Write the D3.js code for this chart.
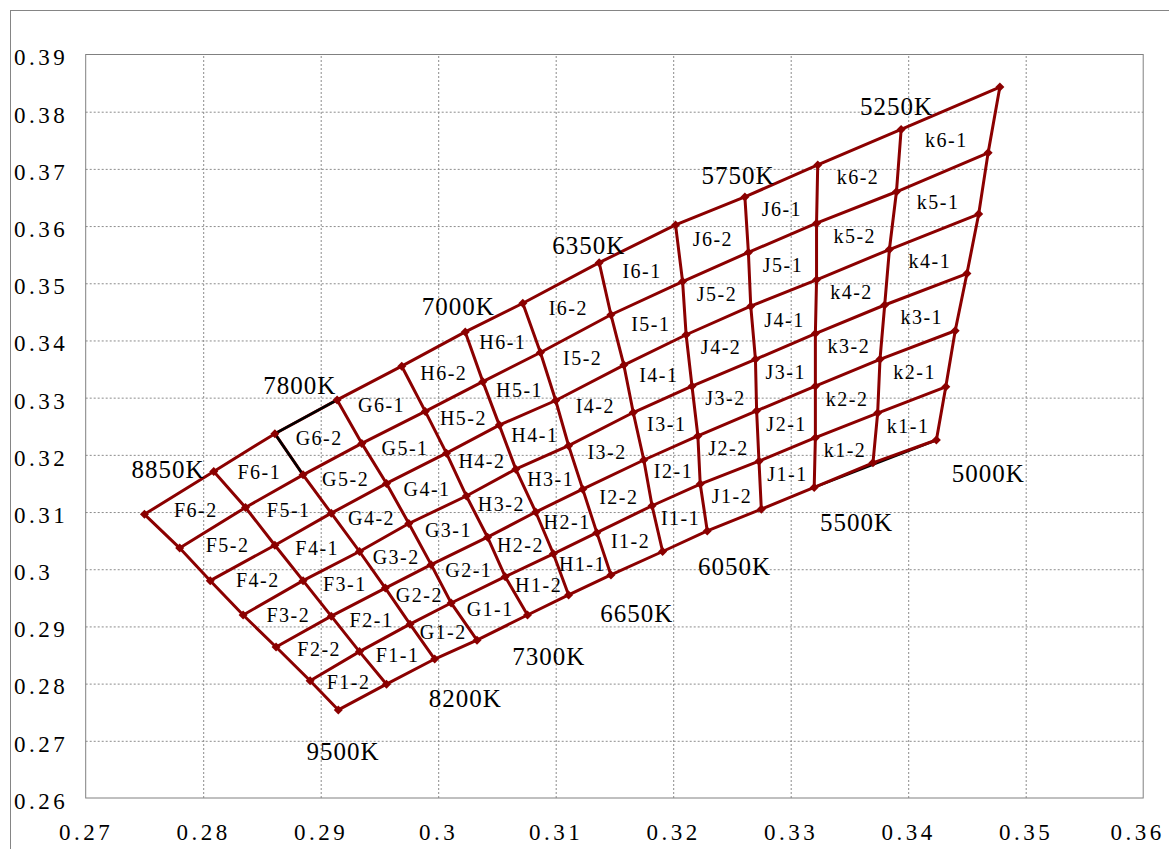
<!DOCTYPE html>
<html>
<head>
<meta charset="utf-8">
<script src="https://cdn.jsdelivr.net/npm/d3@7"></script>
<style>
  body { margin: 0; background: #fff; }
  .tick text { font-family: "Liberation Serif", serif; font-size: 23px; letter-spacing: 3.5px; fill: #000; }
  .cell-label { font-family: "Liberation Serif", serif; font-size: 20px; letter-spacing: 1.5px; fill: #000; }
  .cct-label { font-family: "Liberation Serif", serif; font-size: 25px; letter-spacing: 1px; fill: #000; }
</style>
</head>
<body>
<svg id="chart" width="1169" height="849"></svg>
<script>
// each isotherm (CCT) line, points listed bottom -> top
const lineX = [
  [0.2915, 0.2891, 0.2862, 0.2834, 0.2806, 0.2780, 0.2750],
  [0.2956, 0.2933, 0.2909, 0.2885, 0.2861, 0.2836, 0.2809],
  [0.2997, 0.2976, 0.2955, 0.2933, 0.2909, 0.2885, 0.2861],
  [0.3033, 0.3011, 0.2994, 0.2975, 0.2956, 0.2935, 0.2914],
  [0.3076, 0.3057, 0.3042, 0.3024, 0.3007, 0.2989, 0.2969],
  [0.3111, 0.3098, 0.3083, 0.3066, 0.3052, 0.3038, 0.3023],
  [0.3147, 0.3135, 0.3123, 0.3111, 0.3100, 0.3087, 0.3072],
  [0.3191, 0.3182, 0.3175, 0.3166, 0.3158, 0.3147, 0.3137],
  [0.3229, 0.3223, 0.3221, 0.3216, 0.3211, 0.3208, 0.3202],
  [0.3275, 0.3273, 0.3271, 0.3270, 0.3266, 0.3264, 0.3261],
  [0.3320, 0.3321, 0.3321, 0.3321, 0.3322, 0.3322, 0.3323],
  [0.3370, 0.3374, 0.3376, 0.3380, 0.3384, 0.3390, 0.3394],
  [0.3424, 0.3432, 0.3440, 0.3450, 0.3460, 0.3468, 0.3478]
];
const lineY = [
  [0.2754, 0.2805, 0.2864, 0.2920, 0.2980, 0.3037, 0.3096],
  [0.2799, 0.2856, 0.2918, 0.2980, 0.3042, 0.3108, 0.3171],
  [0.2843, 0.2904, 0.2967, 0.3031, 0.3098, 0.3165, 0.3237],
  [0.2876, 0.2941, 0.3008, 0.3080, 0.3150, 0.3220, 0.3296],
  [0.2920, 0.2987, 0.3056, 0.3128, 0.3203, 0.3276, 0.3355],
  [0.2955, 0.3027, 0.3100, 0.3175, 0.3252, 0.3328, 0.3415],
  [0.2990, 0.3064, 0.3140, 0.3216, 0.3295, 0.3379, 0.3465],
  [0.3031, 0.3111, 0.3191, 0.3274, 0.3357, 0.3445, 0.3536],
  [0.3067, 0.3149, 0.3233, 0.3320, 0.3410, 0.3503, 0.3602],
  [0.3105, 0.3189, 0.3277, 0.3367, 0.3460, 0.3554, 0.3651],
  [0.3143, 0.3230, 0.3320, 0.3412, 0.3506, 0.3605, 0.3707],
  [0.3186, 0.3273, 0.3367, 0.3462, 0.3559, 0.3660, 0.3769],
  [0.3226, 0.3319, 0.3417, 0.3517, 0.3621, 0.3728, 0.3843]
];

const groups = ["F", "G", "H", "I", "J", "k"];
const rowNames = ["1", "2", "3", "4", "5", "6"];
const subNames = ["2", "1"];

const cctNames = ["9500K", "8200K", "7300K", "6650K", "6050K", "5500K", "5000K",
                  "8850K", "7800K", "7000K", "6350K", "5750K", "5250K"];
const cctLabelX = [0.2888, 0.2992, 0.3063, 0.3138, 0.3221, 0.3325, 0.3437,
                   0.2739, 0.2851, 0.2986, 0.3097, 0.3224, 0.3359];
const cctLabelY = [0.2681, 0.2774, 0.2848, 0.2923, 0.3005, 0.3083, 0.3168,
                   0.3174, 0.3322, 0.3459, 0.3567, 0.3689, 0.3809];

const xTicks = [0.27, 0.28, 0.29, 0.30, 0.31, 0.32, 0.33, 0.34, 0.35, 0.36];
const yTicks = [0.26, 0.27, 0.28, 0.29, 0.30, 0.31, 0.32, 0.33, 0.34, 0.35, 0.36, 0.37, 0.38, 0.39];

const plot = {left: 85.7, right: 1143.2, top: 54.5, bottom: 798};
const red = "#8b0000";

const svg = d3.select("#chart");

// outer chart frame
svg.append("rect")
    .attr("x", 10.5).attr("y", 10.5)
    .attr("width", 1200).attr("height", 900)
    .attr("fill", "none").attr("stroke", "#858585");

const x = d3.scaleLinear().domain([0.27, 0.36]).range([plot.left, plot.right]);
const y = d3.scaleLinear().domain([0.26, 0.39]).range([plot.bottom, plot.top]);
const fmt = d => String(+d.toFixed(2));

// grid
svg.append("g")
    .attr("transform", `translate(0,${plot.bottom})`)
    .call(d3.axisBottom(x).tickValues(xTicks.slice(1, -1)).tickSize(-(plot.bottom - plot.top)).tickFormat(""))
    .call(g => g.select(".domain").remove())
    .call(g => g.selectAll("line").attr("stroke", "#8c8c8c").attr("stroke-dasharray", "2,2"));
svg.append("g")
    .attr("transform", `translate(${plot.left},0)`)
    .call(d3.axisLeft(y).tickValues(yTicks.slice(1, -1)).tickSize(-(plot.right - plot.left)).tickFormat(""))
    .call(g => g.select(".domain").remove())
    .call(g => g.selectAll("line").attr("stroke", "#8c8c8c").attr("stroke-dasharray", "2,2"));

svg.append("rect")
    .attr("x", plot.left).attr("y", plot.top)
    .attr("width", plot.right - plot.left).attr("height", plot.bottom - plot.top)
    .attr("fill", "none").attr("stroke", "#808080");

// tick labels
svg.append("g")
    .attr("transform", `translate(0,${plot.bottom})`)
    .call(d3.axisBottom(x).tickValues(xTicks).tickSize(0).tickPadding(26).tickFormat(fmt))
    .call(g => g.select(".domain").remove())
    .call(g => g.selectAll("text").filter(d => d === 0.36).attr("dx", "-6"));
svg.append("g")
    .attr("transform", `translate(${plot.left},0)`)
    .call(d3.axisLeft(y).tickValues(yTicks).tickSize(0).tickFormat(fmt))
    .call(g => g.select(".domain").remove())
    .call(g => g.selectAll("text").attr("text-anchor", "start").attr("x", 14 - plot.left).attr("dy", "0.45em"));

// grid of points
const pts = lineX.map((xs, c) => xs.map((v, r) => ({x: v, y: lineY[c][r]})));
const nCols = pts.length, nRows = pts[0].length;
const rowLines = d3.range(nRows).map(r => pts.map(col => col[r]));

const line = d3.line().x(d => x(d.x)).y(d => y(d.y));

// black boundary line under bottom of k1-2
svg.append("path")
    .attr("d", line([pts[10][0], pts[12][0]]))
    .attr("fill", "none").attr("stroke", "#000").attr("stroke-width", 2.5);

const gLines = svg.append("g").attr("fill", "none").attr("stroke", red).attr("stroke-width", 3);
gLines.selectAll(".row").data(rowLines).join("path").attr("class", "row").attr("d", line);
gLines.selectAll(".col").data(pts).join("path").attr("class", "col").attr("d", line);

// black edges of G6-2
svg.append("path")
    .attr("d", line([pts[3][6], pts[2][6], pts[2][5]]))
    .attr("fill", "none").attr("stroke", "#000").attr("stroke-width", 2.6);

// diamond markers
svg.append("g").selectAll("path")
    .data(pts.flat())
    .join("path")
    .attr("transform", d => `translate(${x(d.x)},${y(d.y)})`)
    .attr("d", "M0,-4.5L4.5,0L0,4.5L-4.5,0Z")
    .attr("fill", red);

// cell labels at the centre of each quad
const cells = [];
for (let r = 0; r < nRows - 1; r++) {
  for (let c = 0; c < nCols - 1; c++) {
    const q = [pts[c][r], pts[c + 1][r], pts[c + 1][r + 1], pts[c][r + 1]];
    cells.push({
      name: groups[Math.floor(c / 2)] + rowNames[r] + "-" + subNames[c % 2],
      px: d3.mean(q, d => x(d.x)),
      py: d3.mean(q, d => y(d.y))
    });
  }
}
svg.append("g").selectAll("text")
    .data(cells)
    .join("text")
    .attr("class", "cell-label")
    .attr("x", d => d.px)
    .attr("y", d => d.py)
    .attr("dy", "0.35em")
    .attr("text-anchor", "middle")
    .text(d => d.name);

// CCT labels
svg.append("g").selectAll("text")
    .data(cctNames)
    .join("text")
    .attr("class", "cct-label")
    .attr("x", (d, i) => x(cctLabelX[i]))
    .attr("y", (d, i) => y(cctLabelY[i]))
    .attr("dy", "0.35em")
    .text(d => d);
</script>
</body>
</html>
